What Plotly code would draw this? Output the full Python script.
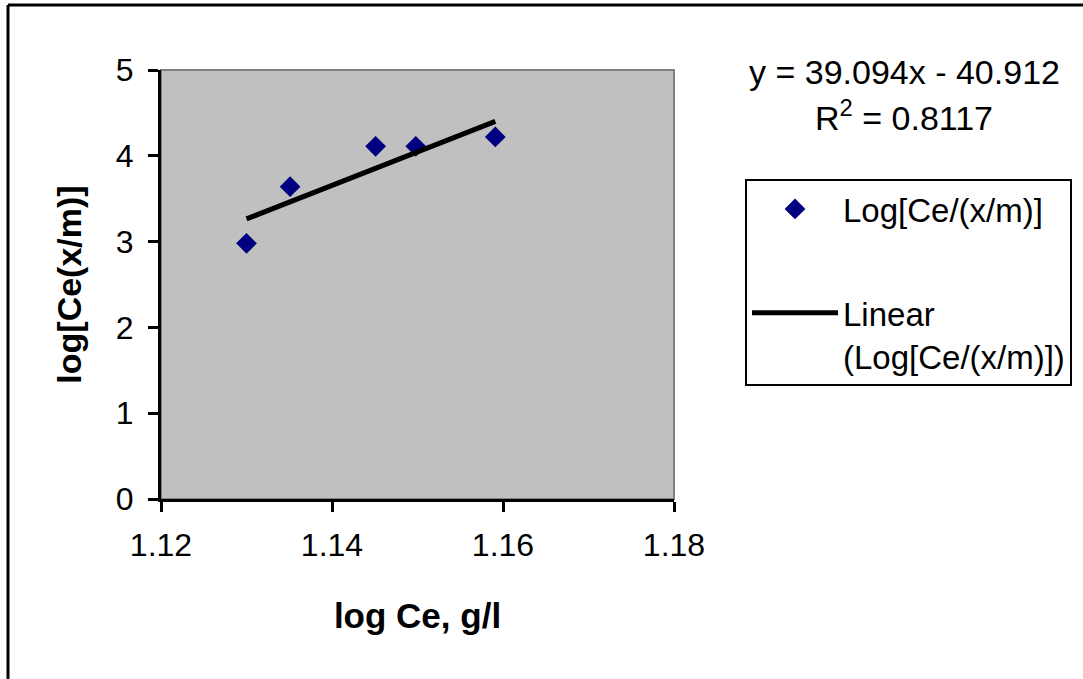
import plotly.graph_objects as go

# Freundlich-style isotherm data
log_ce = [1.1300, 1.1351, 1.1451, 1.1498, 1.1591]
log_ce_xm = [2.98, 3.64, 4.11, 4.11, 4.22]

# Least-squares fit reported on the chart
slope = 39.094
intercept = -40.912
r_squared = 0.8117

x_ticks = [1.12, 1.14, 1.16, 1.18]
y_ticks = [0, 1, 2, 3, 4, 5]

W, H = 1083, 679
ML, MR, MT, MB = 161, 409, 70, 180
pw, ph = W - ML - MR, H - MT - MB


def px_x(p):
    return (p - ML) / pw


def px_y(p):
    return (H - MB - p) / ph


FONT = "Liberation Sans, Arial, sans-serif"

fit_x = [min(log_ce), max(log_ce)]
fit_y = [slope * v + intercept for v in fit_x]

fig = go.Figure()
fig.add_trace(go.Scatter(
    x=log_ce, y=log_ce_xm, mode="markers", name="Log[Ce/(x/m)]",
    marker=dict(symbol="diamond", size=16, color="#000080",
                line=dict(width=0)),
    legendgroup="a",
))
fig.add_trace(go.Scatter(
    x=fit_x, y=fit_y, mode="lines", name="Linear<br>(Log[Ce/(x/m)])",
    line=dict(color="black", width=5),
    legendgroup="b",
))

fig.update_layout(
    width=W, height=H,
    margin=dict(l=ML, r=MR, t=MT, b=MB, autoexpand=False),
    paper_bgcolor="white", plot_bgcolor="#C0C0C0",
    font=dict(family=FONT, size=32, color="black"),
    showlegend=True,
    legend=dict(
        x=px_x(745), y=px_y(179), xanchor="left", yanchor="top",
        bordercolor="black", borderwidth=2, bgcolor="white",
        font=dict(size=33), itemwidth=86, tracegroupgap=58,
        traceorder="grouped", valign="top",
    ),
    xaxis=dict(
        range=[1.12, 1.18], tickvals=x_ticks, tickformat=".2f",
        showgrid=False, zeroline=False, showline=True, linecolor="black",
        linewidth=3, ticks="outside", ticklen=10, tickwidth=3,
        tickcolor="black", ticklabelstandoff=6,
        tickfont=dict(size=32),
        title=dict(text="<b>log Ce, g/l</b>", font=dict(size=35), standoff=42),
    ),
    yaxis=dict(
        range=[0, 5], tickvals=y_ticks,
        showgrid=False, zeroline=False, showline=True, linecolor="black",
        linewidth=3, ticks="outside", ticklen=10, tickwidth=3,
        tickcolor="black", ticklabelstandoff=8,
        tickfont=dict(size=32),
        title=dict(text="<b>log[Ce(x/m)]</b>", font=dict(size=34), standoff=24),
    ),
    shapes=[
        # plot-area frame (top and right edges show in grey)
        dict(type="rect", xref="x domain", yref="y domain", x0=0, x1=1,
             y0=0, y1=1, line=dict(color="#808080", width=2), layer="below"),
        # outer chart border
        dict(type="line", xref="paper", yref="paper",
             x0=px_x(8), x1=px_x(8), y0=px_y(5), y1=px_y(690),
             line=dict(color="black", width=3)),
        dict(type="line", xref="paper", yref="paper",
             x0=px_x(8), x1=px_x(1090), y0=px_y(5), y1=px_y(5),
             line=dict(color="black", width=3)),
    ],
    annotations=[
        dict(text=f"y = {slope:.3f}x - {abs(intercept):.3f}",
             xref="paper", yref="paper", x=px_x(904), y=px_y(72),
             xanchor="center", yanchor="middle", showarrow=False,
             font=dict(size=34)),
        dict(text=f"R<sup>2</sup> = {r_squared:.4f}",
             xref="paper", yref="paper", x=px_x(904), y=px_y(115),
             xanchor="center", yanchor="middle", showarrow=False,
             font=dict(size=34)),
    ],
)

fig.write_html("out.html")
